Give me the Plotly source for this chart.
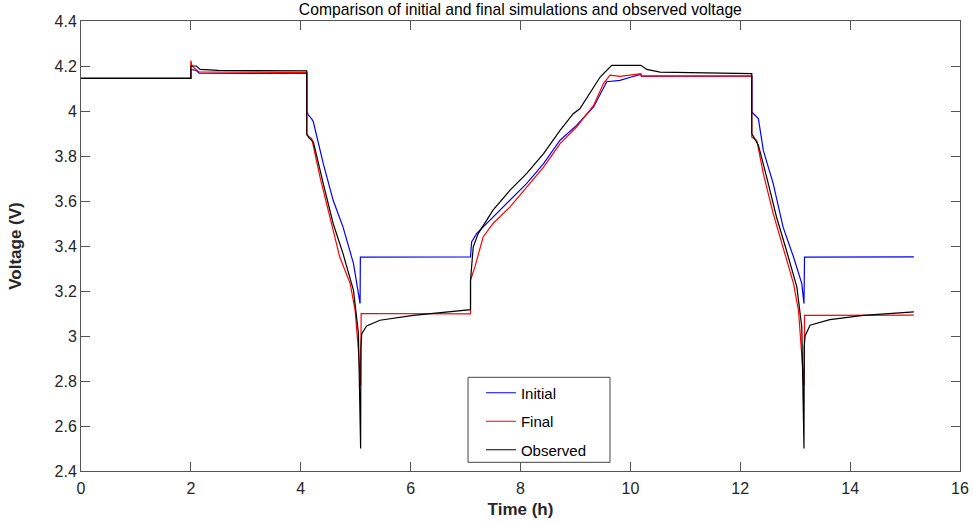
import plotly.graph_objects as go

# ---- data (time in h, voltage in V) ----
t_initial = [0, 2.0, 2.0, 2.1, 2.15, 4.11, 4.11, 4.14, 4.2, 4.23, 4.41, 4.59, 4.77, 4.96, 5.08,
             5.085, 7.09, 7.11, 7.2, 7.5, 7.81, 8.11, 8.42, 8.72, 9.02, 9.33, 9.57, 9.81, 10.0,
             10.19, 10.2, 12.21, 12.21, 12.3, 12.33, 12.42, 12.6, 12.78, 12.97, 13.12, 13.16,
             13.17, 15.16]
v_initial = [4.145, 4.145, 4.185, 4.18, 4.168, 4.167, 4.0, 3.981, 3.965, 3.951, 3.766, 3.603,
             3.484, 3.322, 3.144, 3.351, 3.352, 3.418, 3.455, 3.529, 3.603, 3.677, 3.766, 3.87,
             3.936, 4.018, 4.13, 4.136, 4.15, 4.163, 4.155, 4.155, 3.996, 3.975, 3.966, 3.825,
             3.677, 3.484, 3.351, 3.233, 3.144, 3.351, 3.352]

t_final = [0, 2.0, 2.0, 2.02, 2.15, 4.11, 4.11, 4.2, 4.35, 4.53, 4.71, 4.9, 4.99, 5.05, 5.09,
           5.10, 7.09, 7.09, 7.17, 7.32, 7.5, 7.81, 8.11, 8.42, 8.72, 9.02, 9.33, 9.51, 9.63,
           9.81, 10.19, 10.2, 12.21, 12.21, 12.3, 12.42, 12.6, 12.78, 12.97, 13.06, 13.12,
           13.16, 13.17, 15.16]
v_final = [4.145, 4.145, 4.224, 4.2, 4.174, 4.171, 3.892, 3.877, 3.707, 3.529, 3.351, 3.233,
           3.114, 2.936, 2.78, 3.1, 3.098, 3.248, 3.307, 3.44, 3.5, 3.574, 3.662, 3.751, 3.855,
           3.929, 4.025, 4.122, 4.159, 4.154, 4.166, 4.155, 4.155, 3.884, 3.87, 3.722, 3.544,
           3.396, 3.233, 3.114, 2.936, 2.78, 3.092, 3.093]

t_observed = [0, 2.0, 2.0, 2.1, 2.17, 2.5, 4.11, 4.11, 4.15, 4.23, 4.41, 4.59, 4.77, 4.96, 5.05,
              5.09, 5.095, 5.11, 5.2, 5.44, 6.05, 7.09, 7.09, 7.14, 7.23, 7.5, 7.81, 8.11, 8.42,
              8.72, 8.96, 9.08, 9.45, 9.66, 10.19, 10.3, 10.54, 12.21, 12.21, 12.33, 12.48,
              12.66, 12.84, 13.03, 13.12, 13.16, 13.165, 13.18, 13.27, 13.63, 14.24, 15.16]
v_observed = [4.145, 4.145, 4.2, 4.2, 4.185, 4.181, 4.178, 3.90, 3.88, 3.862, 3.677, 3.5, 3.366,
              3.203, 3.012, 2.5, 2.95, 3.01, 3.045, 3.07, 3.092, 3.117, 3.248, 3.396, 3.455,
              3.559, 3.648, 3.722, 3.811, 3.914, 3.988, 4.01, 4.151, 4.203, 4.203, 4.185, 4.173,
              4.166, 3.9, 3.848, 3.707, 3.529, 3.381, 3.218, 3.04, 2.5, 2.95, 3.0, 3.048, 3.073,
              3.092, 3.107]

x_ticks = [0, 2, 4, 6, 8, 10, 12, 14, 16]
y_ticks = [2.4, 2.6, 2.8, 3.0, 3.2, 3.4, 3.6, 3.8, 4.0, 4.2, 4.4]
y_tick_labels = ["2.4", "2.6", "2.8", "3", "3.2", "3.4", "3.6", "3.8", "4", "4.2", "4.4"]

FONT = "Liberation Sans, Arial, sans-serif"
AX = "#555555"

fig = go.Figure()
for name, tx, vy, col in [("Initial", t_initial, v_initial, "#0000ff"),
                          ("Final", t_final, v_final, "#ff0000"),
                          ("Observed", t_observed, v_observed, "#000000")]:
    fig.add_trace(go.Scatter(x=tx, y=vy, mode="lines", name=name, legendgroup=name,
                             line=dict(color=col, width=1.2)))

axis_common = dict(showgrid=False, zeroline=False, showline=True, linecolor=AX, linewidth=1,
                   mirror="ticks", ticks="inside", ticklen=9, tickcolor=AX, tickwidth=1,
                   tickfont=dict(family=FONT, size=16, color="#262626"))

fig.update_layout(
    width=973, height=524,
    margin=dict(l=81, r=13, t=21, b=53),
    paper_bgcolor="white", plot_bgcolor="white",
    title=dict(text="Comparison of initial and final simulations and observed voltage",
               x=0.5348, xanchor="center", y=0.981, yanchor="middle",
               font=dict(family=FONT, size=15.7, color="#000000")),
    xaxis=dict(range=[0, 16], tickvals=x_ticks, automargin=False, ticklabelstandoff=3,
               title=dict(text="<b>Time (h)</b>", font=dict(family=FONT, size=17, color="#262626"),
                          standoff=6),
               **axis_common),
    yaxis=dict(range=[2.4, 4.4], tickvals=y_ticks, ticktext=y_tick_labels, automargin=False,
               title=dict(text="<b>Voltage (V)</b>", font=dict(family=FONT, size=17, color="#262626"),
                          standoff=28),
               **axis_common),
    legend=dict(x=0.455, y=0.21, xanchor="left", yanchor="top",
                bgcolor="rgba(0,0,0,0)", borderwidth=0,
                font=dict(family=FONT, size=15, color="#000000"),
                tracegroupgap=6),
    shapes=[dict(type="rect", xref="paper", yref="paper", x0=0.4403, x1=0.6018,
                 y0=0.0193, y1=0.2082, line=dict(color="#444444", width=1),
                 fillcolor="white", layer="above")],
    showlegend=True,
)

fig.write_html("out.html", config={"displayModeBar": False},
               post_script="document.body.style.margin='0';")
